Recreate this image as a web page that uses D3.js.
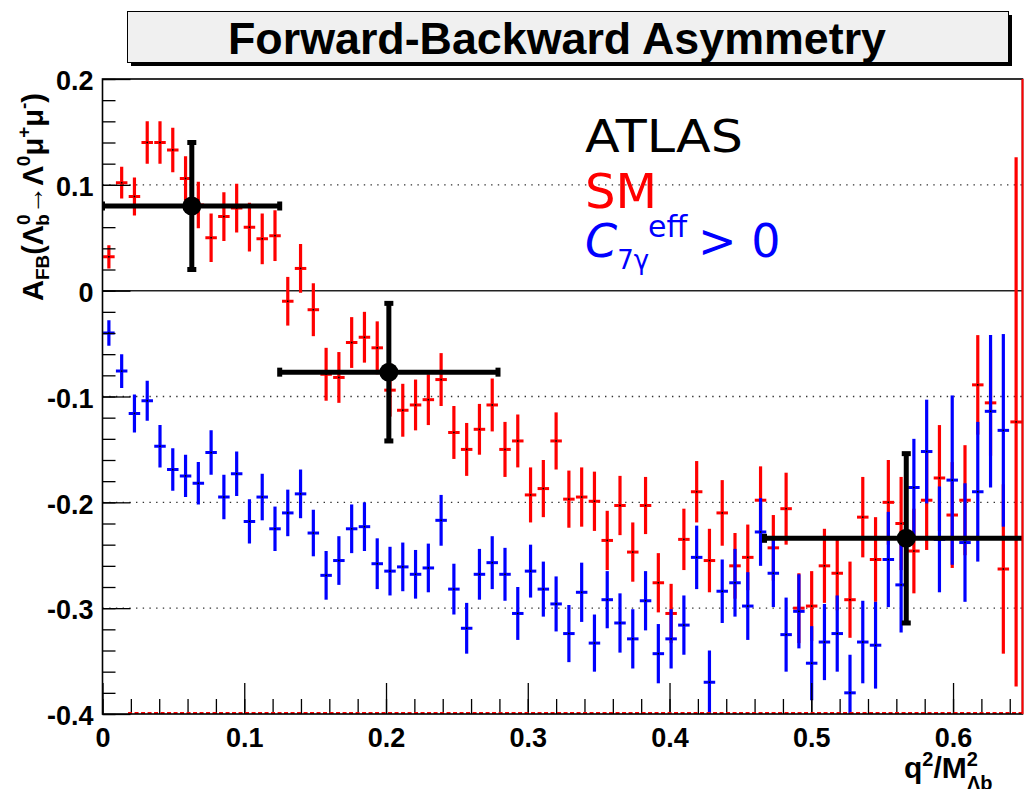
<!DOCTYPE html>
<html>
<head>
  <script src="https://d3js.org/d3.v7.min.js"></script>
  <style>
    body {
      margin: 0;
      background: #fff;
    }
    .tick-label {
      font-family: "Liberation Sans", Arial, sans-serif;
      font-weight: bold;
      font-size: 27px;
      fill: #000;
    }
    .axis-title {
      font-family: "Liberation Sans", Arial, sans-serif;
      font-weight: bold;
      fill: #000;
    }
    .legend {
      font-family: "DejaVu Sans", sans-serif;
    }
  </style>
</head>
<body>
  <div id="chart"></div>

  <script>
    // histogram binning of the theory curves
    var nBins = 72;
    var xMax = 0.649;

    // Standard Model prediction (red)
    var smValues = [0.032, 0.102, 0.089, 0.140, 0.140, 0.133, 0.106, 0.081, 0.050, 0.070,
      0.078, 0.060, 0.049, 0.052, -0.010, 0.021, -0.018, -0.079, -0.082, -0.049,
      -0.044, -0.054, -0.094, -0.113, -0.108, -0.103, -0.084, -0.134, -0.150, -0.131,
      -0.108, -0.150, -0.142, -0.193, -0.187, -0.142, -0.197, -0.195, -0.199, -0.236,
      -0.203, -0.247, -0.203, -0.276, -0.305, -0.235, -0.190, -0.255, -0.210, -0.260,
      -0.252, -0.198, -0.243, -0.206, -0.300, -0.298, -0.260, -0.267, -0.292, -0.214,
      -0.254, -0.200, -0.220, -0.246, -0.198, -0.177, -0.212, -0.198, -0.089, -0.106,
      -0.263, -0.124];
    var smErrors = [0.011, 0.015, 0.018, 0.020, 0.020, 0.021, 0.021, 0.022, 0.023, 0.023,
      0.023, 0.023, 0.024, 0.024, 0.023, 0.023, 0.025, 0.025, 0.024, 0.024,
      0.024, 0.025, 0.025, 0.025, 0.024, 0.024, 0.025, 0.025, 0.025, 0.024,
      0.025, 0.026, 0.025, 0.026, 0.027, 0.027, 0.027, 0.028, 0.028, 0.028,
      0.028, 0.028, 0.027, 0.028, 0.028, 0.029, 0.029, 0.030, 0.031, 0.031,
      0.031, 0.032, 0.031, 0.034, 0.033, 0.033, 0.035, 0.035, 0.036, 0.038,
      0.040, 0.040, 0.044, 0.040, 0.047, 0.050, 0.050, 0.052, 0.047, 0.050,
      0.080, 0.250];

    // C7gamma^eff > 0 scenario (blue)
    var c7Values = [-0.040, -0.076, -0.116, -0.104, -0.147, -0.169, -0.175, -0.182, -0.153, -0.195,
      -0.173, -0.218, -0.195, -0.225, -0.210, -0.192, -0.229, -0.269, -0.255, -0.225,
      -0.223, -0.258, -0.265, -0.261, -0.268, -0.262, -0.217, -0.282, -0.319, -0.268,
      -0.257, -0.268, -0.305, -0.265, -0.282, -0.296, -0.324, -0.285, -0.333, -0.292,
      -0.314, -0.329, -0.293, -0.343, -0.329, -0.316, -0.252, -0.370, -0.284, -0.276,
      -0.298, -0.228, -0.267, -0.325, -0.303, -0.352, -0.332, -0.324, -0.380, -0.332,
      -0.335, -0.254, -0.278, -0.186, -0.152, -0.235, -0.179, -0.238, -0.190, -0.114,
      -0.132, null];
    var c7Errors = [0.012, 0.016, 0.018, 0.019, 0.020, 0.020, 0.020, 0.020, 0.021, 0.021,
      0.021, 0.021, 0.022, 0.021, 0.022, 0.023, 0.022, 0.023, 0.023, 0.023,
      0.023, 0.024, 0.023, 0.023, 0.023, 0.023, 0.024, 0.024, 0.024, 0.024,
      0.025, 0.025, 0.025, 0.025, 0.026, 0.026, 0.027, 0.028, 0.027, 0.027,
      0.028, 0.028, 0.028, 0.028, 0.028, 0.028, 0.030, 0.030, 0.030, 0.032,
      0.032, 0.032, 0.032, 0.035, 0.035, 0.035, 0.036, 0.036, 0.036, 0.039,
      0.041, 0.045, 0.045, 0.046, 0.049, 0.050, 0.080, 0.056, 0.066, 0.072,
      0.091, null];

    // ATLAS measurement (black)
    var atlasX = [0.063, 0.202, 0.567];
    var atlasXLow = [0.0, 0.125, 0.467];
    var atlasXHigh = [0.125, 0.279, 0.667];
    var atlasValues = [0.080, -0.077, -0.234];
    var atlasErrors = [0.060, 0.065, 0.080];

    var xTicks = [0, 0.1, 0.2, 0.3, 0.4, 0.5, 0.6];
    var yTicks = [0.2, 0.1, 0, -0.1, -0.2, -0.3, -0.4];
    var yGrid = [0.1, -0.1, -0.2, -0.3];

    var W = 1024, H = 789;
    var pLeft = 102.5, pRight = 1022.5, pTop = 79, pBottom = 714;

    var svg = d3.select("#chart")
      .append("svg")
      .attr("width", W)
      .attr("height", H);

    var x = d3.scaleLinear().domain([0, xMax]).range([pLeft, pRight]);
    var y = d3.scaleLinear().domain([-0.4, 0.2]).range([pBottom, pTop]);
    var binW = xMax / nBins;

    function label(d) {
      return String(+d.toFixed(1));
    }

    // title box
    svg.append("rect")
      .attr("x", 131).attr("y", 15)
      .attr("width", 881).attr("height", 51)
      .attr("fill", "#000");
    svg.append("rect")
      .attr("x", 127.5).attr("y", 11.5)
      .attr("width", 881).attr("height", 51)
      .attr("fill", "#f0f0f0")
      .attr("stroke", "#000")
      .attr("stroke-width", 1);
    svg.append("text")
      .attr("class", "axis-title")
      .attr("x", 557)
      .attr("y", 54)
      .attr("text-anchor", "middle")
      .attr("font-size", 45)
      .attr("textLength", 658)
      .attr("lengthAdjust", "spacingAndGlyphs")
      .text("Forward-Backward Asymmetry");

    svg.append("clipPath")
      .attr("id", "plot-clip")
      .append("rect")
      .attr("x", pLeft).attr("y", pTop)
      .attr("width", pRight - pLeft).attr("height", pBottom - pTop);

    // grid
    svg.selectAll(".grid")
      .data(yGrid)
      .enter()
      .append("line")
      .attr("class", "grid")
      .attr("x1", pLeft).attr("x2", pRight)
      .attr("y1", function(d) { return y(d); })
      .attr("y2", function(d) { return y(d); })
      .attr("stroke", "#333")
      .attr("stroke-width", 1.4)
      .attr("stroke-dasharray", "1.4,5.3");

    svg.append("line")
      .attr("x1", pLeft).attr("x2", pRight)
      .attr("y1", y(0)).attr("y2", y(0))
      .attr("stroke", "#222")
      .attr("stroke-width", 1.5);

    var plot = svg.append("g").attr("clip-path", "url(#plot-clip)");

    function drawSeries(values, errors, color) {
      var pts = [];
      values.forEach(function(v, i) {
        if (v !== null) pts.push({ c: (i + 0.5) * binW, v: v, e: errors[i] });
      });
      var g = plot.append("g");
      g.selectAll(".vbar")
        .data(pts)
        .enter()
        .append("line")
        .attr("x1", function(d) { return x(d.c); })
        .attr("x2", function(d) { return x(d.c); })
        .attr("y1", function(d) { return y(d.v - d.e); })
        .attr("y2", function(d) { return y(d.v + d.e); })
        .attr("stroke", color)
        .attr("stroke-width", 3.2);
      g.selectAll(".hbar")
        .data(pts)
        .enter()
        .append("line")
        .attr("x1", function(d) { return x(d.c - binW * 0.45); })
        .attr("x2", function(d) { return x(d.c + binW * 0.45); })
        .attr("y1", function(d) { return y(d.v); })
        .attr("y2", function(d) { return y(d.v); })
        .attr("stroke", color)
        .attr("stroke-width", 3);
      g.selectAll(".dot")
        .data(pts)
        .enter()
        .append("rect")
        .attr("x", function(d) { return x(d.c) - 0.8; })
        .attr("y", function(d) { return y(d.v) - 0.8; })
        .attr("width", 1.6).attr("height", 1.6)
        .attr("fill", "#000");
    }

    drawSeries(smValues, smErrors, "#ff0000");
    drawSeries(c7Values, c7Errors, "#0000ff");

    // ATLAS points
    var atlas = atlasX.map(function(d, i) {
      return { x: d, lo: atlasXLow[i], hi: atlasXHigh[i], v: atlasValues[i], e: atlasErrors[i] };
    });
    var ag = plot.append("g");
    ag.selectAll(".ah")
      .data(atlas).enter().append("line")
      .attr("x1", function(d) { return x(d.lo); })
      .attr("x2", function(d) { return x(d.hi); })
      .attr("y1", function(d) { return y(d.v); })
      .attr("y2", function(d) { return y(d.v); })
      .attr("stroke", "#000").attr("stroke-width", 5);
    ag.selectAll(".av")
      .data(atlas).enter().append("line")
      .attr("x1", function(d) { return x(d.x); })
      .attr("x2", function(d) { return x(d.x); })
      .attr("y1", function(d) { return y(d.v - d.e); })
      .attr("y2", function(d) { return y(d.v + d.e); })
      .attr("stroke", "#000").attr("stroke-width", 5);
    // end caps
    atlas.forEach(function(d) {
      [d.v - d.e, d.v + d.e].forEach(function(yy) {
        ag.append("rect")
          .attr("x", x(d.x) - 4.5).attr("y", y(yy) - 2.5)
          .attr("width", 9).attr("height", 5).attr("fill", "#000");
      });
      [d.lo, d.hi].forEach(function(xx) {
        ag.append("rect")
          .attr("x", x(xx) - 2.5).attr("y", y(d.v) - 4.5)
          .attr("width", 5).attr("height", 9).attr("fill", "#000");
      });
    });
    ag.selectAll(".am")
      .data(atlas).enter().append("circle")
      .attr("cx", function(d) { return x(d.x); })
      .attr("cy", function(d) { return y(d.v); })
      .attr("r", 9.5)
      .attr("fill", "#000");

    // y axis (ticks inside the frame)
    var yMinor = d3.range(-20, 11).map(function(k) { return k * 0.02; });
    svg.append("g")
      .attr("transform", "translate(" + pLeft + ",0)")
      .call(d3.axisLeft(y).tickValues(yMinor).tickSize(-13).tickFormat(""))
      .call(function(g) { g.select(".domain").remove(); })
      .selectAll("line").attr("stroke", "#000").attr("stroke-width", 1.3);
    var yAxis = svg.append("g")
      .attr("transform", "translate(" + pLeft + ",0)")
      .call(d3.axisLeft(y).tickValues(yTicks).tickSize(-28).tickPadding(9).tickFormat(label));
    yAxis.select(".domain").remove();
    yAxis.selectAll("line").attr("stroke", "#000").attr("stroke-width", 1.3);
    yAxis.attr("font-size", null).attr("font-family", null);
    yAxis.selectAll("text")
      .attr("class", "tick-label")
      .attr("dy", "0.4em");

    // x axis
    var xMinor = d3.range(0, 33).map(function(k) { return k * 0.02; });
    svg.append("g")
      .attr("transform", "translate(0," + pBottom + ")")
      .call(d3.axisBottom(x).tickValues(xMinor).tickSize(-15).tickFormat(""))
      .call(function(g) { g.select(".domain").remove(); })
      .selectAll("line").attr("stroke", "#000").attr("stroke-width", 1.3);
    var xAxis = svg.append("g")
      .attr("transform", "translate(0," + pBottom + ")")
      .call(d3.axisBottom(x).tickValues(xTicks).tickSize(-31).tickPadding(14).tickFormat(label));
    xAxis.select(".domain").remove();
    xAxis.selectAll("line").attr("stroke", "#000").attr("stroke-width", 1.3);
    xAxis.attr("font-size", null).attr("font-family", null);
    xAxis.selectAll("text")
      .attr("class", "tick-label");

    // red histogram line along the bottom and right edge
    svg.append("line")
      .attr("x1", x(2 * binW)).attr("x2", pRight)
      .attr("y1", pBottom - 1).attr("y2", pBottom - 1)
      .attr("stroke", "#ff0000").attr("stroke-width", 2)
      .attr("stroke-dasharray", "4,2.5");

    // frame
    svg.append("rect")
      .attr("x", pLeft).attr("y", pTop)
      .attr("width", pRight - pLeft).attr("height", pBottom - pTop)
      .attr("fill", "none")
      .attr("stroke", "#000")
      .attr("stroke-width", 1.6);
    svg.append("line")
      .attr("x1", pRight).attr("x2", pRight)
      .attr("y1", pTop).attr("y2", pBottom)
      .attr("stroke", "#ff0000").attr("stroke-width", 2);

    // axis titles
    var yt = svg.append("text")
      .attr("class", "axis-title")
      .attr("font-size", 29)
      .attr("transform", "translate(43,301) rotate(-90)");
    yt.append("tspan").text("A");
    yt.append("tspan").attr("font-size", 19).attr("dy", 6).text("FB");
    yt.append("tspan").attr("dy", -6).text("(\u039b");
    yt.append("tspan").attr("font-size", 19).attr("dy", 6).text("b");
    yt.append("tspan").attr("font-size", 19).attr("dx", -11).attr("dy", -19).text("0");
    yt.append("tspan").attr("dy", 13).text("\u2192\u039b");
    yt.append("tspan").attr("font-size", 19).attr("dy", -13).text("0");
    yt.append("tspan").attr("dy", 13).text("\u03bc");
    yt.append("tspan").attr("font-size", 19).attr("dy", -13).text("+");
    yt.append("tspan").attr("dy", 13).text("\u03bc");
    yt.append("tspan").attr("font-size", 19).attr("dy", -13).text("-");
    yt.append("tspan").attr("dy", 13).text(")");

    var xt = svg.append("text")
      .attr("class", "axis-title")
      .attr("font-size", 30)
      .attr("x", 904)
      .attr("y", 778);
    xt.append("tspan").text("q");
    xt.append("tspan").attr("font-size", 20).attr("dy", -12).text("2");
    xt.append("tspan").attr("dy", 12).text("/M");
    xt.append("tspan").attr("font-size", 20).attr("dy", -12).text("2");
    xt.append("tspan").attr("font-size", 20).attr("dx", -11).attr("dy", 24).text("\u039bb");

    // legend
    svg.append("text")
      .attr("class", "legend")
      .attr("x", 585).attr("y", 152)
      .attr("font-size", 44)
      .attr("fill", "#000")
      .attr("textLength", 158)
      .attr("lengthAdjust", "spacingAndGlyphs")
      .text("ATLAS");
    svg.append("text")
      .attr("class", "legend")
      .attr("x", 585).attr("y", 208)
      .attr("font-size", 48)
      .attr("fill", "#ff0000")
      .attr("textLength", 72)
      .attr("lengthAdjust", "spacingAndGlyphs")
      .text("SM");
    var c7 = svg.append("text")
      .attr("class", "legend")
      .attr("x", 585).attr("y", 257)
      .attr("font-size", 46)
      .attr("fill", "#0000ff");
    c7.append("tspan").attr("font-style", "italic").text("C");
    c7.append("tspan").attr("font-size", 26).attr("dy", 12).text("7\u03b3");
    c7.append("tspan").attr("font-size", 30).attr("dx", -1).attr("dy", -32).text("eff");
    c7.append("tspan").attr("x", 698).attr("dy", 20).text("> 0");
  </script>
</body>
</html>
